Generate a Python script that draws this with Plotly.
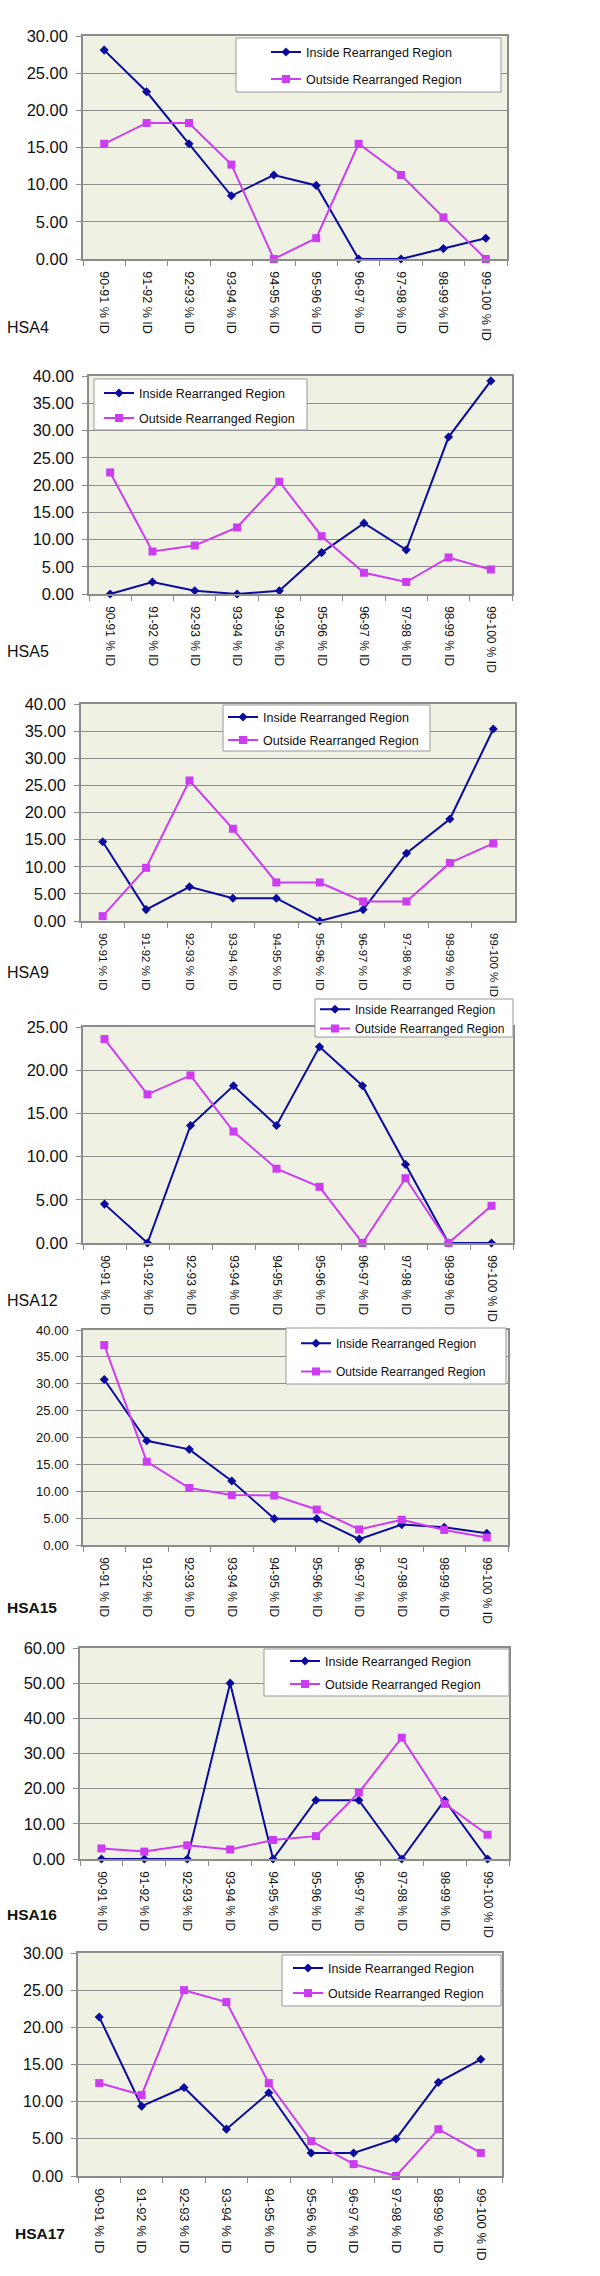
import plotly.graph_objects as go

# ---------------- data ----------------
categories = ["90-91 % ID", "91-92 % ID", "92-93 % ID", "93-94 % ID", "94-95 % ID",
              "95-96 % ID", "96-97 % ID", "97-98 % ID", "98-99 % ID", "99-100 % ID"]

panel_names = ["HSA4", "HSA5", "HSA9", "HSA12", "HSA15", "HSA16", "HSA17"]
series_names = ["Inside Rearranged Region", "Outside Rearranged Region"]

inside_hsa4 = [28.1, 22.5, 15.5, 8.5, 11.3, 9.9, 0.0, 0.0, 1.4, 2.8]
outside_hsa4 = [15.5, 18.3, 18.3, 12.7, 0.0, 2.8, 15.5, 11.3, 5.6, 0.0]

inside_hsa5 = [0.0, 2.2, 0.6, 0.0, 0.6, 7.6, 13.0, 8.1, 28.8, 39.1]
outside_hsa5 = [22.3, 7.8, 8.9, 12.2, 20.6, 10.6, 3.9, 2.2, 6.7, 4.5]

inside_hsa9 = [14.6, 2.1, 6.3, 4.2, 4.2, 0.0, 2.1, 12.5, 18.8, 35.4]
outside_hsa9 = [0.9, 9.8, 25.9, 17.0, 7.1, 7.1, 3.6, 3.6, 10.7, 14.3]

inside_hsa12 = [4.5, 0.0, 13.6, 18.2, 13.6, 22.7, 18.2, 9.1, 0.0, 0.0]
outside_hsa12 = [23.6, 17.2, 19.4, 12.9, 8.6, 6.5, 0.0, 7.5, 0.0, 4.3]

inside_hsa15 = [30.8, 19.4, 17.8, 11.9, 4.9, 4.9, 1.1, 3.8, 3.3, 2.2]
outside_hsa15 = [37.2, 15.5, 10.6, 9.3, 9.2, 6.6, 2.9, 4.7, 2.8, 1.4]

inside_hsa16 = [0.0, 0.0, 0.0, 50.0, 0.0, 16.7, 16.7, 0.0, 16.7, 0.0]
outside_hsa16 = [3.0, 2.1, 3.9, 2.7, 5.4, 6.5, 18.9, 34.5, 15.7, 6.9]

inside_hsa17 = [21.4, 9.4, 11.9, 6.3, 11.2, 3.1, 3.1, 5.0, 12.6, 15.7]
outside_hsa17 = [12.5, 10.9, 25.0, 23.4, 12.5, 4.7, 1.6, 0.0, 6.3, 3.1]

inside_all = [inside_hsa4, inside_hsa5, inside_hsa9, inside_hsa12, inside_hsa15, inside_hsa16, inside_hsa17]
outside_all = [outside_hsa4, outside_hsa5, outside_hsa9, outside_hsa12, outside_hsa15, outside_hsa16, outside_hsa17]

y_max = [30, 40, 40, 25, 40, 60, 30]
y_step = [5, 5, 5, 5, 5, 10, 5]

# ---------------- layout geometry (pixels) ----------------
W, H = 600, 2276
plot_box = [(83, 507, 36, 259), (89, 512, 376, 594), (81, 515, 704, 921),
            (83, 513, 1027, 1243), (83, 508, 1330, 1545), (80, 509, 1648, 1859),
            (78, 502, 1953, 2176)]
legend_box = [(236, 501, 38, 92), (94, 307, 379, 430), (223, 430, 705, 751),
              (315, 513, 999, 1037), (286, 506, 1328, 1384), (264, 509, 1649, 1696),
              (282, 501, 1955, 2006)]
legend_text_x = [306, 139, 263, 355, 336, 325, 328]
legend_items_y = [(52, 79), (393, 418), (717, 740), (1009, 1028), (1343, 1371), (1661, 1684), (1968, 1993)]
legend_font = [12.5, 12.5, 12.5, 12, 12, 12.5, 12.5]
ytick_font = [16.5, 16.5, 16.5, 16.5, 13, 16.5, 16]
xtick_font = [12.5, 12, 11.5, 12, 12, 12, 13]
label_pos = [(5, 327), (5, 651), (5, 973), (5, 1300), (5, 1607), (5, 1914), (13, 2233)]
label_bold = [False, False, False, False, True, True, True]

INSIDE = "#0B0BA0"
OUTSIDE = "#CC3DF2"
SANS = "Liberation Sans, Arial, sans-serif"
GRAY = "#8C8C8C"

fig = go.Figure()
layout = dict(width=W, height=H, autosize=False,
              margin=dict(l=0, r=0, t=0, b=0, pad=0, autoexpand=False),
              paper_bgcolor="white", plot_bgcolor="#EFF2E3",
              shapes=[], annotations=[], showlegend=True)

for i in range(7):
    k = i + 1
    sfx = "" if k == 1 else str(k)
    leg = "legend" + sfx
    l, r, t, b = plot_box[i]
    fig.add_trace(go.Scatter(
        x=categories, y=inside_all[i], xaxis="x" + sfx, yaxis="y" + sfx,
        mode="lines+markers", name=series_names[0],
        line=dict(color=INSIDE, width=2),
        marker=dict(symbol="diamond", size=7, color=INSIDE),
        legend=leg, legendgroup="in" + str(k), cliponaxis=False))
    fig.add_trace(go.Scatter(
        x=categories, y=outside_all[i], xaxis="x" + sfx, yaxis="y" + sfx,
        mode="lines+markers", name=series_names[1],
        line=dict(color=OUTSIDE, width=2),
        marker=dict(symbol="square", size=8, color=OUTSIDE),
        legend=leg, legendgroup="out" + str(k), cliponaxis=False))

    layout["xaxis" + sfx] = dict(
        domain=[l / W, r / W], anchor="y" + sfx, type="category", automargin=False,
        range=[-0.5, 9.5], tickangle=90, ticks="outside", tickson="boundaries",
        ticklen=5, tickcolor=GRAY, showline=True, mirror=True, linecolor=GRAY,
        linewidth=1.5, showgrid=False, zeroline=False,
        tickfont=dict(family=SANS, size=xtick_font[i], color="#111"),
        ticklabelstandoff=8)
    layout["yaxis" + sfx] = dict(
        domain=[1 - b / H, 1 - t / H], anchor="x" + sfx, automargin=False,
        range=[0, y_max[i]], dtick=y_step[i], tick0=0, tickformat=".2f",
        showgrid=True, gridcolor=GRAY, gridwidth=1, zeroline=False,
        ticks="outside", ticklen=5, tickcolor=GRAY, showline=True, mirror=True,
        linecolor=GRAY, linewidth=1.5,
        tickfont=dict(family=SANS, size=ytick_font[i], color="#111"),
        ticklabelstandoff=5)

    bl, br, bt, bb = legend_box[i]
    layout["shapes"].append(dict(
        type="rect", xref="paper", yref="paper",
        x0=bl / W, x1=br / W, y0=1 - bb / H, y1=1 - bt / H,
        fillcolor="white", line=dict(color="#999999", width=1), layer="above"))

    y1, y2 = legend_items_y[i]
    f = legend_font[i]
    natural = 1.3 * f + 3          # plotly legend item height
    gap = y2 - y1
    extra = max(0.0, natural - gap)
    top = y1 - (natural / 2 + 5) - extra / 2
    layout[leg] = dict(
        x=(legend_text_x[i] - 40) / W, xanchor="left",
        y=1 - top / H, yanchor="top",
        bgcolor="rgba(0,0,0,0)", borderwidth=0,
        font=dict(family=SANS, size=f, color="#111"),
        tracegroupgap=max(0, gap - natural), itemwidth=30)

    lx, ly = label_pos[i]
    txt = "<b>%s</b>" % panel_names[i] if label_bold[i] else panel_names[i]
    layout["annotations"].append(dict(
        text=txt, xref="paper", yref="paper", x=lx / W, y=1 - ly / H,
        xanchor="left", yanchor="middle", showarrow=False,
        font=dict(family=SANS, size=16 if not label_bold[i] else 15.5, color="#111")))

fig.update_layout(**layout)
fig.write_html("out.html",
               config={"displayModeBar": False},
               post_script="document.body.style.margin='0px';document.body.style.overflow='hidden';")
